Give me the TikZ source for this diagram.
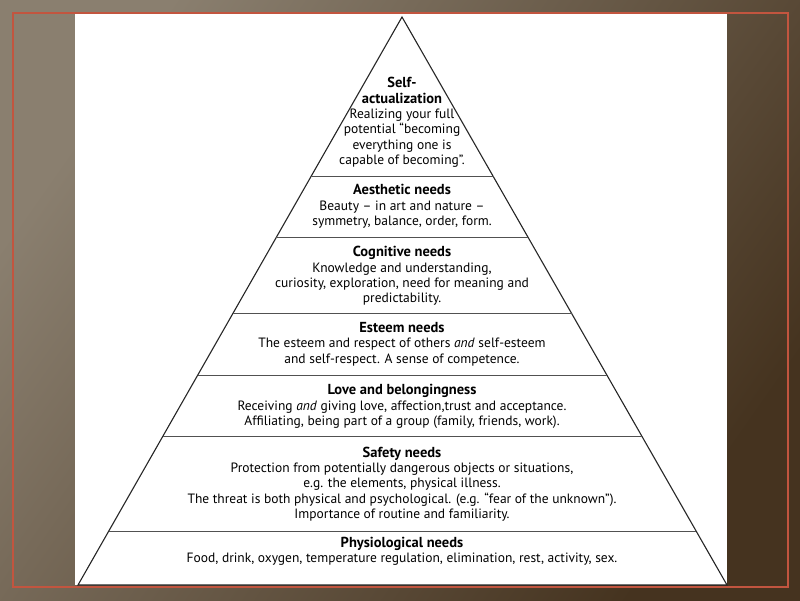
\documentclass[tikz,border=0pt]{standalone}
\usepackage{fontspec}
\setmainfont{PT Sans}
\usetikzlibrary{calc}
\definecolor{bgleft}{HTML}{8A7F6F}
\definecolor{bgright}{HTML}{45331F}
\definecolor{frame}{HTML}{C2553F}
\definecolor{edge}{HTML}{262626}
\tikzset{
  tier/.style={align=center,font=\fontsize{13.5}{15.3}\selectfont,inner sep=0pt},
  side/.style={edge,line width=1.1pt},
  tierline/.style={edge!80,line width=1pt},
}
\newcommand{\hd}[1]{{\fontsize{14.5}{15.3}\selectfont\bfseries #1}}

\begin{document}
\begin{tikzpicture}[x=1pt,y=-1pt]
  \shade[top color=bgleft,bottom color=bgright,shading angle=55] (0,0) rectangle (800,600);
  \draw[frame,line width=2pt] (13,13) rectangle (788,587);
  \fill[white] (75,14) rectangle (727,585);
  \coordinate (apex) at (402,17);
  \coordinate (bl) at (78,585);
  \coordinate (br) at (727,585);
  \draw[side] (bl) -- (apex) -- (br) -- cycle;
  \foreach \y [count=\i] in {177,237.5,314,375.5,436.5,531} {
    \pgfmathsetmacro{\t}{(\y-17)/568}
    \coordinate (l\i) at ($(apex)!\t!(bl)$);
    \coordinate (r\i) at ($(apex)!\t!(br)$);
    \draw[tierline] (l\i) -- (r\i);
  }
  \node[tier] (selfact) at (402,122.5) {\hd{Self-}\\\hd{actualization}\\Realizing your full\\potential “becoming\\everything one is\\capable of becoming”.};
  \node[tier] (aesth) at (402,206.5) {\hd{Aesthetic needs}\\Beauty – in art and nature –\\symmetry, balance, order, form.};
  \node[tier] (cogn) at (402,276) {\hd{Cognitive needs}\\Knowledge and understanding,\\curiosity, exploration, need for meaning and\\predictability.};
  \node[tier] (esteem) at (402,344) {\hd{Esteem needs}\\The esteem and respect of others \emph{and} self-esteem\\and self-respect. A sense of competence.};
  \node[tier] (love) at (402,406.5) {\hd{Love and belongingness}\\Receiving \emph{and} giving love, affection,trust and acceptance.\\Affiliating, being part of a group (family, friends, work).};
  \node[tier] (safety) at (402,484) {\hd{Safety needs}\\Protection from potentially dangerous objects or situations,\\e.g. the elements, physical illness.\\The threat is both physical and psychological. (e.g. “fear of the unknown”).\\Importance of routine and familiarity.};
  \node[tier] (physio) at (402,551.5) {\hd{Physiological needs}\\Food, drink, oxygen, temperature regulation, elimination, rest, activity, sex.};
\end{tikzpicture}
\end{document}
